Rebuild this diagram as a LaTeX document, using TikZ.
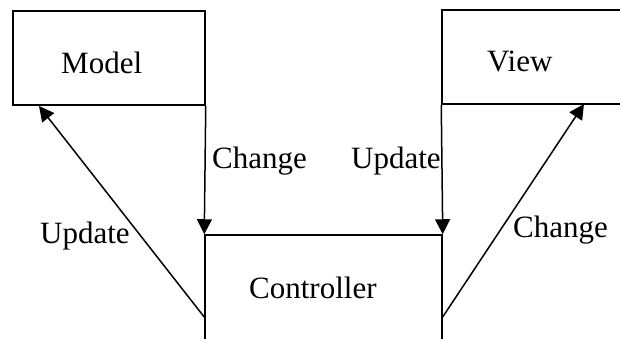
\documentclass[tikz,border=0pt]{standalone}
\usepackage{fontspec}
\setmainfont{Liberation Serif}
\usetikzlibrary{arrows.meta}
\tikzset{
  box/.style={draw, line width=1.5pt, rectangle, inner sep=0pt},
  lbl/.style={anchor=base west, inner sep=0pt, font=\fontsize{31}{36}\selectfont},
  flow/.style={line width=1.5pt, -{Triangle[length=15pt,width=15pt]}}
}
\begin{document}
\begin{tikzpicture}[x=1pt,y=-1pt]
  \useasboundingbox (0,0) rectangle (620,339);
  \clip (0,0) rectangle (620,339);
  % the three boxes (View runs off the right edge, Controller off the bottom)
  \node[box, minimum width=192pt, minimum height=94pt] (model) at (109,58) {};
  \node[box, minimum width=210pt, minimum height=94pt] (view) at (547,57) {};
  \node[box, minimum width=237pt, minimum height=140pt] (controller) at (323.5,305) {};
  % box titles
  \node[lbl] (mtext) at (61,74) {Model};
  \node[lbl] (vtext) at (487,72) {View};
  \node[lbl] (ctext) at (249,298) {Controller};
  % anchor points of the diagonal connectors
  \coordinate (cl) at (205,318);
  \coordinate (cr) at (442,318);
  \coordinate (mb) at (39,106);
  \coordinate (vb) at (584,104);
  % connectors
  \draw[flow] (model.south east) -- (controller.north west);
  \draw[flow] (view.south west) -- (controller.north east);
  \draw[flow] (cl) -- (mb);
  \draw[flow] (cr) -- (vb);
  % connector labels
  \node[lbl] (l1) at (212,168) {Change};
  \node[lbl] (l2) at (351,168) {Update};
  \node[lbl] (l3) at (40,243) {Update};
  \node[lbl] (l4) at (513,237) {Change};
\end{tikzpicture}
\end{document}
